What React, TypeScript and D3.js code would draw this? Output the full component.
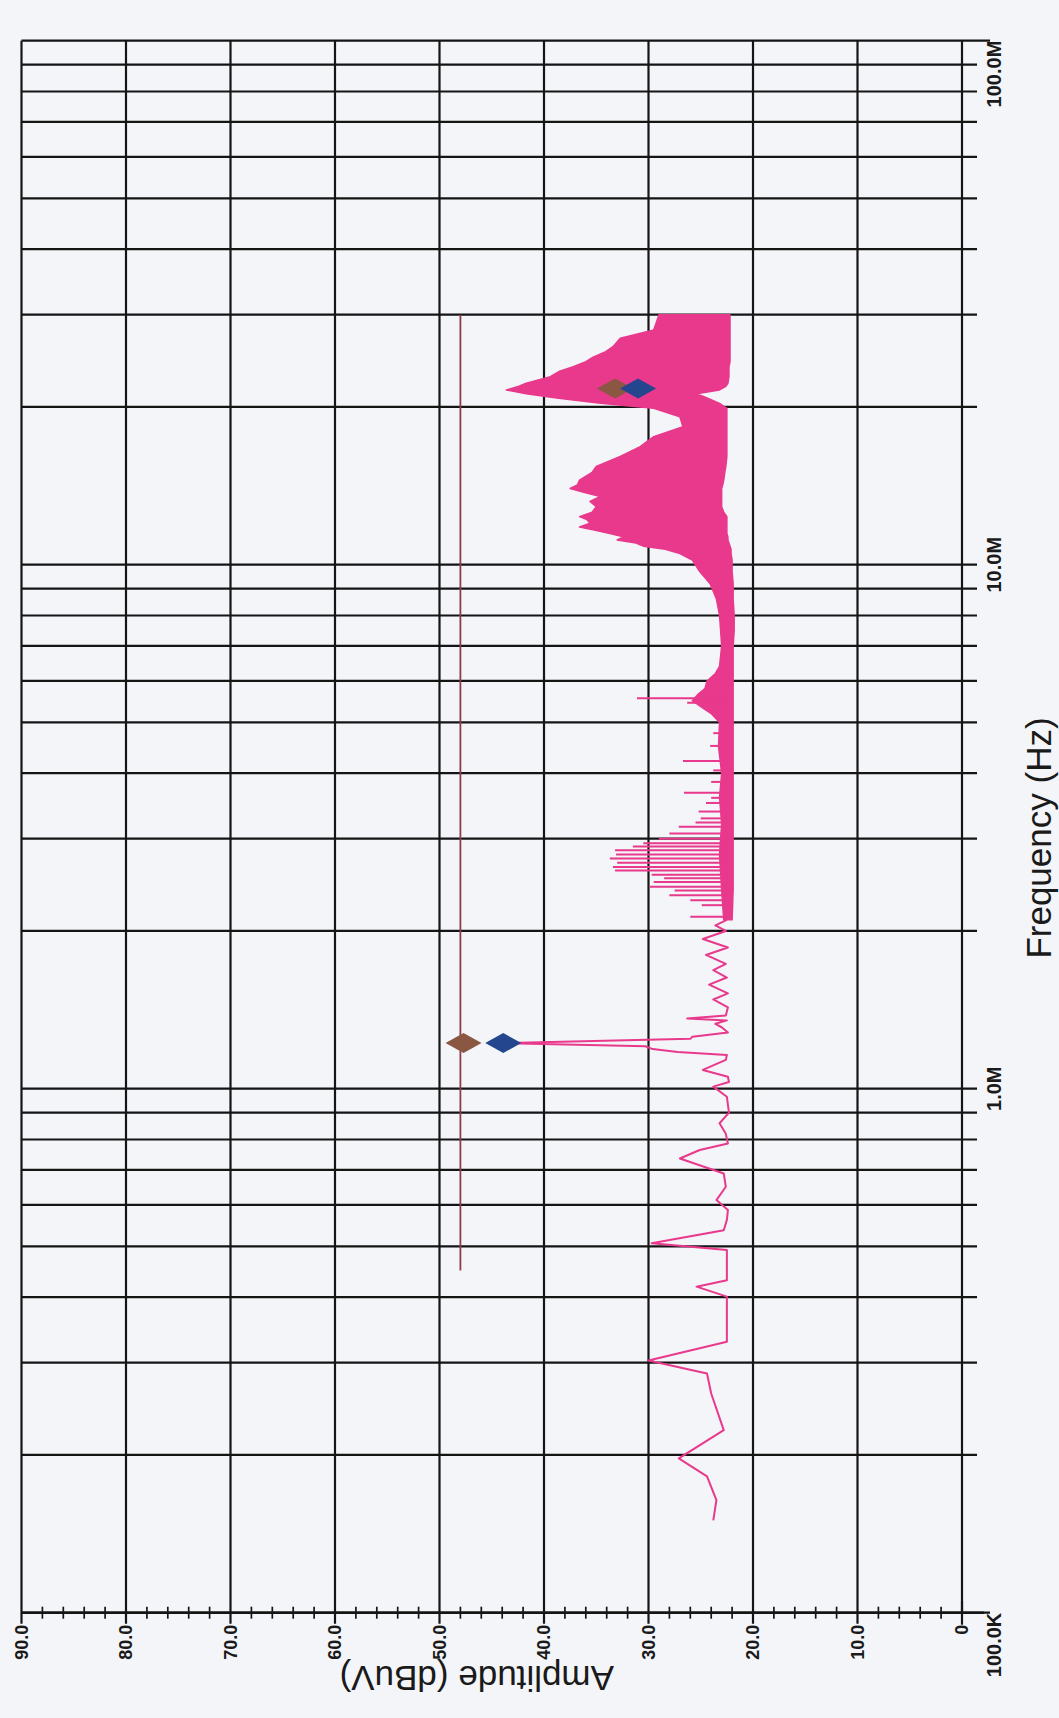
import React, { useEffect, useRef } from "react";
import * as d3 from "d3";

const WIDTH = 1059;
const HEIGHT = 1718;

// amplitude axis, dBuV
const ampTicks = [0, 10, 20, 30, 40, 50, 60, 70, 80, 90];
const ampLabels = ["0", "10.0", "20.0", "30.0", "40.0", "50.0", "60.0", "70.0", "80.0", "90.0"];
const ampMinor = [2, 4, 6, 8, 12, 14, 16, 18, 22, 24, 26, 28, 32, 34, 36, 38, 42, 44, 46, 48, 52, 54, 56, 58, 62, 64, 66, 68, 72, 74, 76, 78, 82, 84, 86, 88];

// frequency axis, MHz
const freqGrid = [0.1, 0.2, 0.3, 0.4, 0.5, 0.6, 0.7, 0.8, 0.9, 1, 2, 3, 4, 5, 6, 7, 8, 9, 10, 20, 30, 40, 50, 60, 70, 80, 90, 100];
const freqLabelAt = [0.1, 1, 10, 100];
const freqLabels = ["100.0K", "1.0M", "10.0M", "100.0M"];
const freqLabelAnchor = ["end", "middle", "middle", "end"];

// trace below 2.1 MHz (single line)
const lowFreq = [0.15, 0.164, 0.182, 0.197, 0.223, 0.262, 0.286, 0.303, 0.329, 0.401, 0.419, 0.431, 0.492, 0.507, 0.537, 0.562, 0.587, 0.613, 0.65, 0.689, 0.736, 0.764, 0.786, 0.82, 0.859, 0.9, 0.965, 1.009, 1.03, 1.054, 1.086, 1.135, 1.16, 1.175, 1.19, 1.205, 1.222, 1.245, 1.257, 1.28, 1.31, 1.33, 1.35, 1.362, 1.38, 1.43, 1.48, 1.52, 1.58, 1.63, 1.684, 1.73, 1.8, 1.86, 1.93, 2.0, 2.05, 2.1];
const lowAmp = [23.8, 23.5, 24.4, 27.1, 22.8, 24.0, 24.4, 30.0, 22.5, 22.5, 25.4, 22.5, 22.5, 29.7, 22.8, 22.5, 22.4, 23.5, 22.6, 22.8, 27.0, 25.1, 22.4, 22.6, 23.2, 22.3, 22.5, 23.8, 22.3, 22.4, 24.8, 22.6, 22.5, 27.2, 29.6, 30.3, 43.9, 26.0, 25.8, 22.4, 23.0, 23.6, 22.5, 26.3, 22.6, 22.4, 23.8, 22.4, 24.2, 22.5, 23.8, 22.6, 24.5, 22.4, 24.8, 22.6, 23.6, 22.5];

// dense part of the sweep, 2.1 - 30 MHz (min / max envelope)
const bandFreq = [2.1, 2.4, 2.8, 3.2, 3.6, 4.0, 4.5, 5.0, 5.2, 5.36, 5.5, 5.65, 5.8, 6.0, 6.2, 6.4, 7.0, 7.5, 8.0, 8.6, 9.2, 9.7, 10.2, 10.5, 10.7, 10.85, 11.0, 11.15, 11.3, 11.47, 11.65, 11.8, 12.0, 12.2, 12.35, 12.6, 12.9, 13.2, 13.5, 13.75, 13.98, 14.2, 14.5, 15.0, 15.4, 16.1, 16.8, 17.55, 18.34, 19.16, 19.88, 20.32, 20.8, 21.2, 21.55, 21.9, 22.2, 22.85, 23.4, 23.86, 24.4, 24.9, 25.5, 26.06, 27.04, 28.05, 30.0];
const bandLo = [22.0, 21.9, 21.9, 21.9, 21.9, 21.9, 21.9, 21.9, 21.9, 21.9, 21.9, 21.9, 21.9, 21.9, 21.9, 21.9, 21.9, 21.8, 21.8, 21.9, 21.9, 22.0, 22.0, 22.1, 22.1, 22.2, 22.3, 22.4, 22.4, 22.5, 22.5, 22.5, 22.5, 22.5, 22.5, 22.8, 23.0, 23.0, 23.0, 23.0, 23.0, 22.9, 22.8, 22.7, 22.6, 22.5, 22.5, 22.5, 22.5, 22.5, 22.5, 23.2, 24.4, 25.4, 23.2, 22.6, 22.4, 22.3, 22.3, 22.3, 22.2, 22.2, 22.2, 22.2, 22.2, 22.2, 22.2];
const bandHi = [22.8, 23.0, 23.2, 23.0, 23.2, 23.0, 23.3, 23.2, 24.0, 25.0, 25.8, 25.3, 24.6, 24.4, 23.6, 23.2, 23.0, 23.1, 23.2, 23.5, 24.1, 25.1, 25.8, 27.0, 28.4, 30.5, 31.2, 33.0, 32.4, 33.7, 35.2, 36.6, 35.6, 35.9, 36.6, 35.4, 35.0, 35.6, 34.6, 36.2, 37.5, 36.8, 36.6, 35.4, 35.0, 32.7, 30.8, 29.5, 26.7, 27.0, 29.5, 34.6, 38.8, 41.7, 43.6, 42.4, 41.7, 39.4, 38.5, 37.2, 36.0, 35.3, 34.1, 33.4, 32.7, 29.5, 29.0];

// narrow harmonics sticking out of the band
const spikeFreq = [2.13, 2.24, 2.29, 2.34, 2.39, 2.43, 2.48, 2.52, 2.56, 2.61, 2.65, 2.7, 2.75, 2.8, 2.85, 2.9, 2.94, 3.0, 3.07, 3.16, 3.22, 3.28, 3.38, 3.51, 3.59, 3.67, 3.85, 4.05, 4.22, 4.51, 4.77, 5.45, 5.56];
const spikeAmp = [26.0, 24.9, 26.0, 28.0, 27.5, 29.9, 29.5, 28.5, 29.7, 33.2, 33.4, 33.0, 33.7, 33.1, 33.2, 31.5, 30.5, 29.0, 28.0, 27.1, 25.5, 25.0, 25.2, 24.5, 24.0, 26.6, 24.0, 23.8, 26.7, 24.1, 23.8, 26.3, 31.1];

// limit line
const limitFreq = [0.45, 30];
const limitAmp = [48, 48];

// peak markers
const markerFreq = [1.222, 21.7];
const markerBrownAmp = [47.7, 33.2];
const markerBlueAmp = [43.9, 31.0];

const FONT = "'Liberation Sans', Arial, Helvetica, sans-serif";

export default function App() {
  const ref = useRef<SVGSVGElement>(null);

  useEffect(() => {
    const svg = d3.select(ref.current);
    svg.selectAll("*").remove();

    svg.append("rect").attr("width", WIDTH).attr("height", HEIGHT).attr("fill", "#f4f5f9");

    // chart is drawn the normal way and turned a quarter left
    const g = svg.append("g").attr("transform", `translate(0,${HEIGHT}) rotate(-90)`);

    const x = d3.scaleLog().domain([0.1, 100]).range([105.3, 1677.3]);
    const y = d3.scaleLinear().domain([0, 90]).range([962, 21.5]);

    const ink = "#151515";

    // grid
    g.append("g")
      .selectAll("line")
      .data(freqGrid)
      .enter()
      .append("line")
      .attr("x1", (d) => x(d))
      .attr("x2", (d) => x(d))
      .attr("y1", y(90))
      .attr("y2", (d) => y(0) + (d === 0.1 || d === 100 ? 28 : 15))
      .attr("stroke", ink)
      .attr("stroke-width", 2.2);

    g.append("g")
      .selectAll("line")
      .data(ampTicks)
      .enter()
      .append("line")
      .attr("x1", (d) => x(0.1) - (d === 0 ? 0 : 11))
      .attr("x2", x(100))
      .attr("y1", (d) => y(d))
      .attr("y2", (d) => y(d))
      .attr("stroke", ink)
      .attr("stroke-width", 2.2);

    // amplitude axis line and minor ticks
    g.append("line")
      .attr("x1", x(0.1))
      .attr("x2", x(0.1))
      .attr("y1", y(90))
      .attr("y2", y(0) + 22)
      .attr("stroke", ink)
      .attr("stroke-width", 2.6);

    g.append("g")
      .selectAll("line")
      .data(ampMinor)
      .enter()
      .append("line")
      .attr("x1", x(0.1) - 6)
      .attr("x2", x(0.1) + 6)
      .attr("y1", (d) => y(d))
      .attr("y2", (d) => y(d))
      .attr("stroke", ink)
      .attr("stroke-width", 1.7);

    g.append("line")
      .attr("x1", x(0.1) - 12)
      .attr("x2", x(0.1) + 12)
      .attr("y1", y(0))
      .attr("y2", y(0))
      .attr("stroke", ink)
      .attr("stroke-width", 2.2);

    // trace
    const pink = "#e8398c";
    const band = bandFreq.map((f, i) => ({ f, lo: bandLo[i], hi: bandHi[i] }));
    const area = d3
      .area<{ f: number; lo: number; hi: number }>()
      .x((d) => x(d.f))
      .y0((d) => y(d.lo))
      .y1((d) => y(d.hi));
    g.append("path")
      .attr("d", area(band))
      .attr("fill", pink)
      .attr("stroke", pink)
      .attr("stroke-width", 1.5)
      .attr("stroke-linejoin", "round");

    g.append("g")
      .selectAll("line")
      .data(spikeFreq)
      .enter()
      .append("line")
      .attr("x1", (d) => x(d))
      .attr("x2", (d) => x(d))
      .attr("y1", y(22.4))
      .attr("y2", (d, i) => y(spikeAmp[i]))
      .attr("stroke", pink)
      .attr("stroke-width", 2);

    const line = d3
      .line<number>()
      .x((d) => x(d))
      .y((d, i) => y(lowAmp[i]));
    g.append("path")
      .attr("d", line(lowFreq))
      .attr("fill", "none")
      .attr("stroke", pink)
      .attr("stroke-width", 2)
      .attr("stroke-linejoin", "round");

    // limit
    g.append("path")
      .attr(
        "d",
        d3
          .line<number>()
          .x((d) => x(d))
          .y((d, i) => y(limitAmp[i]))(limitFreq)
      )
      .attr("stroke", "#8c3b4a")
      .attr("stroke-width", 1.8)
      .attr("fill", "none");

    // markers
    const diamond = (cx: number, cy: number) =>
      `M${cx - 10},${cy}L${cx},${cy - 18}L${cx + 10},${cy}L${cx},${cy + 18}Z`;
    g.append("g")
      .selectAll("path")
      .data(markerFreq)
      .enter()
      .append("path")
      .attr("d", (d, i) => diamond(x(d), y(markerBrownAmp[i])))
      .attr("fill", "#8a5842");
    g.append("g")
      .selectAll("path")
      .data(markerFreq)
      .enter()
      .append("path")
      .attr("d", (d, i) => diamond(x(d), y(markerBlueAmp[i])))
      .attr("fill", "#24468e");

    // labels
    g.append("g")
      .selectAll("text")
      .data(ampTicks)
      .enter()
      .append("text")
      .attr("x", x(0.1) - 12)
      .attr("y", (d) => y(d))
      .attr("dy", "0.36em")
      .attr("text-anchor", "end")
      .attr("font-family", FONT)
      .attr("font-weight", "bold")
      .attr("font-size", 18)
      .attr("fill", "#1a1a1a")
      .text((d, i) => ampLabels[i]);

    g.append("g")
      .selectAll("text")
      .data(freqLabelAt)
      .enter()
      .append("text")
      .attr("x", (d) => x(d))
      .attr("y", 1001)
      .attr("text-anchor", (d, i) => freqLabelAnchor[i])
      .attr("font-family", FONT)
      .attr("font-weight", "bold")
      .attr("font-size", 20)
      .attr("fill", "#1a1a1a")
      .text((d, i) => freqLabels[i]);

    g.append("text")
      .attr("x", 880)
      .attr("y", 1051)
      .attr("text-anchor", "middle")
      .attr("font-family", FONT)
      .attr("font-size", 35)
      .attr("fill", "#1a1a1a")
      .text("Frequency (Hz)");

    g.append("text")
      .attr("transform", `translate(52,${(y(0) + y(90)) / 2 - 15}) rotate(-90)`)
      .attr("text-anchor", "middle")
      .attr("font-family", FONT)
      .attr("font-size", 35)
      .attr("fill", "#1a1a1a")
      .text("Amplitude (dBuV)");
  }, []);

  return (
    <svg
      ref={ref}
      width={WIDTH}
      height={HEIGHT}
      style={{ position: "absolute", left: 0, top: 0, display: "block" }}
    ></svg>
  );
}
